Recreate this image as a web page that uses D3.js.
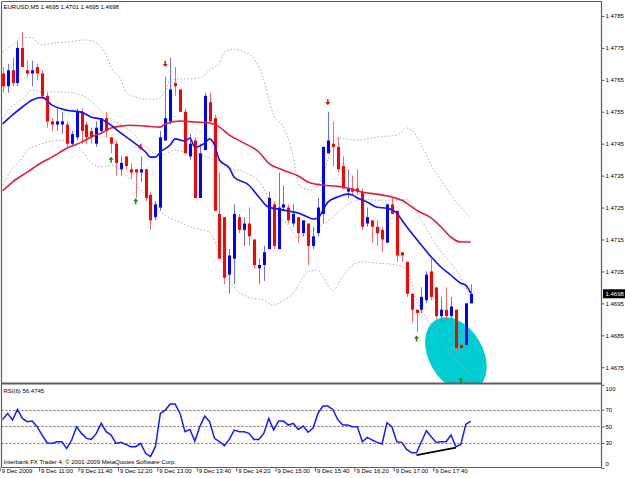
<!DOCTYPE html>
<html>
<head>
<meta charset="utf-8">
<script src="https://cdnjs.cloudflare.com/ajax/libs/d3/7.8.5/d3.min.js"></script>
<style>
  body { margin: 0; background: #fff; }
  svg text { font-family: "Liberation Sans", Arial, sans-serif; font-size: 6px; fill: #000; }
</style>
</head>
<body>
<svg id="chart" width="625" height="478"></svg>
<script>
// ---- data (EURUSD M5, 9 Dec 2009, bar 0 = 10:20) ----
const symbol = "EURUSD,M5";
const lastQuote = [1.4695, 1.4701, 1.4695, 1.4698];

const opens = [
  1.4767, 1.4763, 1.4768, 1.4764, 1.4775, 1.4768, 1.4767, 1.4769, 1.4767, 1.4760,
  1.4752, 1.4751, 1.4751, 1.4751, 1.4745, 1.4747, 1.4755, 1.4751, 1.4749, 1.4745,
  1.4749, 1.4753, 1.4747, 1.4745, 1.4737, 1.4741, 1.4737, 1.4737, 1.4736, 1.4737,
  1.4729, 1.4722, 1.4725, 1.4746, 1.4752, 1.4764, 1.4762, 1.4755, 1.4741, 1.4746,
  1.4728, 1.4743, 1.4758, 1.4753, 1.4723, 1.4722, 1.4704, 1.4709, 1.4722, 1.4718,
  1.4720, 1.4715, 1.4706, 1.4707, 1.4712, 1.4726, 1.4712, 1.4725, 1.4725, 1.4720,
  1.4722, 1.4717, 1.4720, 1.4713, 1.4717, 1.4723, 1.4742, 1.4745, 1.4744, 1.4738,
  1.4730, 1.4731, 1.4731, 1.4730, 1.4720, 1.4721, 1.4719, 1.4718, 1.4714, 1.4726,
  1.4724, 1.4711, 1.4708, 1.4698, 1.4693, 1.4693, 1.4696, 1.4705, 1.4700, 1.4691,
  1.4693, 1.4691, 1.4693, 1.4682, 1.4682, 1.4695
];
const highs = [
  1.4769, 1.4770, 1.4772, 1.4777, 1.4780, 1.4771, 1.4771, 1.4770, 1.4768, 1.4761,
  1.4753, 1.4756, 1.4755, 1.4752, 1.4749, 1.4756, 1.4756, 1.4752, 1.4750, 1.4752,
  1.4753, 1.4755, 1.4747, 1.4746, 1.4741, 1.4741, 1.4739, 1.4737, 1.4741, 1.4737,
  1.4730, 1.4727, 1.4749, 1.4766, 1.4772, 1.4769, 1.4762, 1.4756, 1.4748, 1.4747,
  1.4745, 1.4761, 1.4761, 1.4754, 1.4736, 1.4722, 1.4712, 1.4726, 1.4723, 1.4722,
  1.4725, 1.4715, 1.4709, 1.4713, 1.4730, 1.4727, 1.4736, 1.4732, 1.4726, 1.4726,
  1.4722, 1.4721, 1.4720, 1.4719, 1.4728, 1.4744, 1.4755, 1.4752, 1.4747, 1.4741,
  1.4737, 1.4735, 1.4737, 1.4731, 1.4725, 1.4721, 1.4721, 1.4719, 1.4726, 1.4728,
  1.4724, 1.4711, 1.4708, 1.4698, 1.4693, 1.4700, 1.4705, 1.4709, 1.4700, 1.4697,
  1.4700, 1.4697, 1.4693, 1.4685, 1.4695, 1.4701
];
const lows = [
  1.4761, 1.4761, 1.4763, 1.4763, 1.4769, 1.4766, 1.4763, 1.4765, 1.4759, 1.4750,
  1.4749, 1.4749, 1.4748, 1.4744, 1.4744, 1.4746, 1.4745, 1.4745, 1.4745, 1.4744,
  1.4748, 1.4747, 1.4742, 1.4735, 1.4735, 1.4737, 1.4734, 1.4728, 1.4733, 1.4727,
  1.4718, 1.4721, 1.4724, 1.4746, 1.4751, 1.4760, 1.4755, 1.4742, 1.4740, 1.4728,
  1.4728, 1.4743, 1.4752, 1.4724, 1.4709, 1.4701, 1.4698, 1.4701, 1.4717, 1.4713,
  1.4713, 1.4706, 1.4701, 1.4702, 1.4712, 1.4712, 1.4712, 1.4724, 1.4720, 1.4719,
  1.4714, 1.4716, 1.4707, 1.4712, 1.4716, 1.4720, 1.4742, 1.4738, 1.4736, 1.4731,
  1.4728, 1.4729, 1.4729, 1.4718, 1.4719, 1.4714, 1.4713, 1.4711, 1.4714, 1.4723,
  1.4708, 1.4708, 1.4697, 1.4689, 1.4686, 1.4692, 1.4695, 1.4696, 1.4690, 1.4689,
  1.4690, 1.4690, 1.4680, 1.4673, 1.4682, 1.4695
];
const closes = [
  1.4763, 1.4768, 1.4764, 1.4775, 1.4769, 1.4767, 1.4768, 1.4767, 1.4760, 1.4752,
  1.4751, 1.4752, 1.4752, 1.4745, 1.4748, 1.4755, 1.4749, 1.4747, 1.4747, 1.4750,
  1.4753, 1.4749, 1.4745, 1.4739, 1.4739, 1.4738, 1.4736, 1.4736, 1.4737, 1.4728,
  1.4721, 1.4726, 1.4747, 1.4753, 1.4762, 1.4763, 1.4755, 1.4742, 1.4745, 1.4728,
  1.4742, 1.4760, 1.4752, 1.4724, 1.4709, 1.4703, 1.4710, 1.4723, 1.4718, 1.4720,
  1.4716, 1.4707, 1.4707, 1.4711, 1.4728, 1.4713, 1.4725, 1.4726, 1.4721, 1.4723,
  1.4717, 1.4721, 1.4713, 1.4716, 1.4725, 1.4744, 1.4746, 1.4744, 1.4737, 1.4731,
  1.4731, 1.4730, 1.4730, 1.4719, 1.4722, 1.4719, 1.4717, 1.4715, 1.4726, 1.4723,
  1.4710, 1.4710, 1.4698, 1.4693, 1.4692, 1.4697, 1.4704, 1.4697, 1.4691, 1.4693,
  1.4691, 1.4694, 1.4681, 1.4681, 1.4695, 1.4698
];

// moving averages, [bar, price]
const fastMa = [
  [0, 1.47512], [2, 1.47540], [4, 1.47565], [6, 1.47587], [8, 1.47595], [10, 1.47571],
  [13, 1.47555], [16, 1.47549], [18, 1.47533], [20, 1.47527], [22, 1.47508], [24, 1.47483],
  [26, 1.47461], [29, 1.47424], [30, 1.47408], [31, 1.47408], [32, 1.47424], [34, 1.47446],
  [35, 1.47465], [37, 1.47458], [38, 1.47468], [39, 1.47439], [41, 1.47452], [42, 1.47465],
  [43, 1.47446], [44, 1.47399], [46, 1.47374], [47, 1.47345], [50, 1.47320], [52, 1.47283],
  [54, 1.47251], [56, 1.47245], [58, 1.47239], [60, 1.47233], [62, 1.47220], [63, 1.47214],
  [64, 1.47217], [65, 1.47242], [66, 1.47267], [68, 1.47283], [70, 1.47292], [71, 1.47289],
  [72, 1.47280], [74, 1.47267], [76, 1.47251], [78, 1.47248], [80, 1.47233], [81, 1.47211],
  [83, 1.47170], [85, 1.47132], [87, 1.47095], [89, 1.47063], [91, 1.47038], [93, 1.47013],
  [94, 1.47007], [95, 1.46982]
];
const slowMa = [
  [0, 1.47303], [2, 1.47330], [5, 1.47361], [8, 1.47392], [10, 1.47408], [13, 1.47436],
  [16, 1.47455], [18, 1.47471], [20, 1.47483], [22, 1.47499], [24, 1.47505], [26, 1.47508],
  [29, 1.47505], [32, 1.47502], [33, 1.47512], [36, 1.47521], [39, 1.47518], [42, 1.47515],
  [44, 1.47502], [46, 1.47477], [49, 1.47452], [52, 1.47424], [54, 1.47389], [57, 1.47367],
  [60, 1.47349], [62, 1.47330], [65, 1.47320], [68, 1.47317], [70, 1.47311], [73, 1.47298],
  [76, 1.47292], [79, 1.47283], [81, 1.47273], [84, 1.47242], [87, 1.47217], [89, 1.47189],
  [91, 1.47157], [93, 1.47142], [95, 1.47142]
];

// bollinger bands, [bar, price]
const bandUpper = [
  [0, 1.47737], [2, 1.47759], [4, 1.47784], [6, 1.47781], [7, 1.47768], [8, 1.47759],
  [10, 1.47765], [13, 1.47768], [17, 1.47775], [20, 1.47753], [21, 1.47728], [22, 1.47690],
  [24, 1.47650], [25, 1.47612], [27, 1.47596], [29, 1.47590], [31, 1.47590], [32, 1.47596],
  [33, 1.47612], [34, 1.47650], [36, 1.47653], [38, 1.47653], [40, 1.47656], [42, 1.47681],
  [44, 1.47703], [45, 1.47737], [47, 1.47746], [49, 1.47737], [51, 1.47718], [53, 1.47649],
  [54, 1.47590], [55, 1.47540], [57, 1.47502], [59, 1.47408], [60, 1.47326], [61, 1.47311],
  [63, 1.47305], [64, 1.47320], [66, 1.47399], [67, 1.47446], [68, 1.47468], [72, 1.47461],
  [76, 1.47471], [80, 1.47477], [82, 1.47499], [83, 1.47493], [85, 1.47446], [87, 1.47383],
  [89, 1.47336], [91, 1.47289], [93, 1.47251], [95, 1.47217]
];
const bandMiddle = [
  [0, 1.47530], [2, 1.47568], [4, 1.47590], [6, 1.47618], [8, 1.47612], [12, 1.47612],
  [16, 1.47602], [19, 1.47568], [22, 1.47524], [24, 1.47511], [26, 1.47490], [29, 1.47440],
  [32, 1.47414], [35, 1.47430], [37, 1.47424], [40, 1.47414], [43, 1.47399], [46, 1.47373],
  [49, 1.47361], [53, 1.47311], [55, 1.47242], [58, 1.47195], [60, 1.47157], [63, 1.47180],
  [65, 1.47198], [67, 1.47220], [69, 1.47248], [71, 1.47267], [73, 1.47276], [76, 1.47273],
  [80, 1.47273], [82, 1.47276], [85, 1.47210], [88, 1.47132], [92, 1.47054], [95, 1.46972]
];
const bandLower = [
  [0, 1.47320], [2, 1.47373], [4, 1.47405], [5, 1.47430], [8, 1.47450], [12, 1.47461],
  [16, 1.47430], [18, 1.47389], [20, 1.47377], [22, 1.47383], [23, 1.47377], [26, 1.47336],
  [29, 1.47289], [32, 1.47236], [34, 1.47217], [36, 1.47204], [39, 1.47185], [42, 1.47173],
  [44, 1.47101], [46, 1.47022], [48, 1.46985], [50, 1.46969], [53, 1.46960], [55, 1.46944],
  [57, 1.46960], [59, 1.46982], [60, 1.47007], [62, 1.47048], [64, 1.47054], [65, 1.47032],
  [67, 1.46991], [69, 1.47032], [71, 1.47070], [73, 1.47080], [76, 1.47076], [80, 1.47070],
  [82, 1.47054], [84, 1.46960], [87, 1.46881], [90, 1.46813], [95, 1.46725]
];

// arrow objects, [bar, price]
const upArrows = [[22, 1.4740], [27, 1.4727], [84, 1.4684], [93, 1.4671]];
const downArrows = [[28, 1.4744], [33, 1.4770], [66, 1.4758]];

// ellipse object centre, [bar, price]
const ellipseCentre = [92, 1.4679];

// RSI(6) per bar
const rsiPeriod = 6;
const rsi = [
  58.4, 65.6, 57.6, 70.4, 59.6, 55.6, 56.4, 49.6, 39.6, 30.4,
  29.6, 31.6, 31.6, 23.6, 33.6, 49.6, 41.6, 35.6, 34.4, 41.6,
  53.6, 43.6, 39.6, 29.6, 30.8, 28.4, 25.6, 25.6, 29.6, 17.6,
  13.6, 25.6, 65.6, 69.6, 76.8, 76.8, 65.6, 43.6, 46.4, 32.4,
  49.6, 62.4, 55.6, 35.6, 31.6, 26.8, 34.4, 45.6, 43.6, 43.6,
  41.6, 34.4, 34.4, 41.6, 59.6, 45.6, 56.4, 56.4, 51.6, 53.6,
  46.4, 50.4, 43.0, 48.0, 65.6, 74.4, 74.4, 70.4, 58.4, 51.6,
  51.6, 49.6, 49.6, 31.6, 36.8, 33.6, 30.8, 28.8, 54.4, 49.6,
  31.6, 30.8, 22.4, 18.4, 18.4, 31.6, 44.8, 37.6, 30.8, 31.6,
  31.6, 39.6, 25.6, 28.4, 52.4, 56.4745
];
const rsiLevels = [70, 50, 30];
const rsiTicks = [100, 70, 50, 30, 0];
const rsiDivergence = [[84, 15.5], [92, 24.5]];

const priceTicks = [1.4785, 1.4775, 1.4765, 1.4755, 1.4745, 1.4735, 1.4725, 1.4715, 1.4705, 1.4695, 1.4685, 1.4675];
const timeBars = [0, 8, 16, 24, 32, 40, 48, 56, 64, 72, 80, 88];
const timeLabels = ["9 Dec 2009", "9 Dec 11:00", "9 Dec 11:40", "9 Dec 12:20", "9 Dec 13:00", "9 Dec 13:40",
  "9 Dec 14:20", "9 Dec 15:00", "9 Dec 15:40", "9 Dec 16:20", "9 Dec 17:00", "9 Dec 17:40"];

// ---- layout ----
const plotLeft = 1.5, plotRight = 601.5;
const mainTop = 1.5, mainBottom = 383.5;
const rsiTop = 384.8, rsiBottom = 467.5;

const svg = d3.select("#chart");

const x = d3.scaleLinear().domain([0, 95]).range([2.7, 470.7]);
const y = d3.scaleLinear().domain([1.4675, 1.4785]).range([367.2, 16]);
const yRsi = d3.scaleLinear().domain([0, 100]).range([468, rsiTop]);

const defs = svg.append("defs");
defs.append("clipPath").attr("id", "clip-main")
  .append("rect").attr("x", plotLeft).attr("y", mainTop)
  .attr("width", plotRight - plotLeft).attr("height", mainBottom - 0.5 - mainTop);
defs.append("clipPath").attr("id", "clip-rsi")
  .append("rect").attr("x", plotLeft).attr("y", mainBottom + 1)
  .attr("width", plotRight - plotLeft).attr("height", rsiBottom - mainBottom - 1);

const main = svg.append("g").attr("clip-path", "url(#clip-main)");

// cyan ellipse (background object)
main.append("ellipse")
  .attr("transform", `translate(${x(ellipseCentre[0])},${y(ellipseCentre[1])}) rotate(60)`)
  .attr("rx", 40).attr("ry", 27)
  .attr("fill", "#00cdd2");

// bands
const line = d3.line().x(d => x(d[0])).y(d => y(d[1])).curve(d3.curveMonotoneX);
[bandUpper, bandMiddle, bandLower].forEach(band => {
  main.append("path")
    .attr("d", line(band))
    .attr("fill", "none")
    .attr("stroke", "#a9a9d2")
    .attr("stroke-width", 1)
    .attr("stroke-dasharray", "1.5,2");
});

// candles
const bars = opens.map((o, i) => ({ i, o, h: highs[i], l: lows[i], c: closes[i] }));
const candle = main.selectAll(".candle").data(bars).enter().append("g").attr("class", "candle");
candle.append("line")
  .attr("x1", d => Math.round(x(d.i)) + 0.5)
  .attr("x2", d => Math.round(x(d.i)) + 0.5)
  .attr("y1", d => y(d.h))
  .attr("y2", d => y(d.l))
  .attr("stroke", d => d.c >= d.o ? "#6f6ff5" : "#f26a6a")
  .attr("stroke-width", 1);
candle.append("rect")
  .attr("x", d => Math.round(x(d.i)) - 1)
  .attr("y", d => y(Math.max(d.o, d.c)))
  .attr("width", 3)
  .attr("height", d => Math.max(1.2, y(Math.min(d.o, d.c)) - y(Math.max(d.o, d.c))))
  .attr("fill", d => d.c >= d.o ? "#0000ff" : "#ff0000");

// moving averages
main.append("path").attr("d", line(slowMa))
  .attr("fill", "none").attr("stroke", "#e0203c").attr("stroke-width", 1.6);
main.append("path").attr("d", line(fastMa))
  .attr("fill", "none").attr("stroke", "#1010f0").attr("stroke-width", 1.6);

// arrows
const upPath = "M0,-3L2.6,0L0.8,0L0.8,3L-0.8,3L-0.8,0L-2.6,0Z";
const downPath = "M0,3L2.6,0L0.8,0L0.8,-3L-0.8,-3L-0.8,0L-2.6,0Z";
main.selectAll(".up").data(upArrows).enter().append("path")
  .attr("d", upPath)
  .attr("transform", d => `translate(${x(d[0])},${y(d[1])})`)
  .attr("fill", "#168c16");
main.selectAll(".down").data(downArrows).enter().append("path")
  .attr("d", downPath)
  .attr("transform", d => `translate(${x(d[0])},${y(d[1])})`)
  .attr("fill", "#e01010");

// ---- RSI window ----
const rsiG = svg.append("g").attr("clip-path", "url(#clip-rsi)");
rsiG.selectAll(".lvl").data(rsiLevels).enter().append("line")
  .attr("x1", plotLeft).attr("x2", plotRight)
  .attr("y1", d => Math.round(yRsi(d)) + 0.5).attr("y2", d => Math.round(yRsi(d)) + 0.5)
  .attr("stroke", "#6a6a6a").attr("stroke-width", 1).attr("stroke-dasharray", "2,2");
rsiG.append("path")
  .attr("d", d3.line().x((d, i) => x(i)).y(d => yRsi(d))(rsi))
  .attr("fill", "none").attr("stroke", "#1a1aff").attr("stroke-width", 1.5);
rsiG.append("path")
  .attr("d", d3.line().x(d => x(d[0])).y(d => yRsi(d[1]))(rsiDivergence))
  .attr("fill", "none").attr("stroke", "#000").attr("stroke-width", 1.6);

// ---- frame ----
const frame = svg.append("g").attr("stroke", "#5e5e5e").attr("fill", "none");
frame.append("line").attr("x1", plotLeft).attr("x2", plotRight).attr("y1", mainTop).attr("y2", mainTop).attr("stroke-width", 1.2);
frame.append("line").attr("x1", plotLeft).attr("x2", plotLeft).attr("y1", mainTop).attr("y2", rsiBottom).attr("stroke-width", 1.2);
frame.append("line").attr("x1", plotRight).attr("x2", plotRight).attr("y1", mainTop).attr("y2", rsiBottom).attr("stroke-width", 1.2);
frame.append("line").attr("x1", plotLeft).attr("x2", plotRight).attr("y1", mainBottom).attr("y2", mainBottom).attr("stroke-width", 2);
frame.append("line").attr("x1", plotLeft).attr("x2", plotRight).attr("y1", rsiBottom).attr("y2", rsiBottom).attr("stroke-width", 1.2);

// ---- axes ----
const priceAxis = svg.append("g")
  .attr("transform", `translate(${plotRight},0)`)
  .call(d3.axisRight(y).tickValues(priceTicks).tickFormat(d3.format(".4f")).tickSize(3).tickPadding(1));
priceAxis.select(".domain").remove();
priceAxis.selectAll(".tick line").attr("stroke", "#5e5e5e");
priceAxis.selectAll("text").attr("font-size", null).attr("font-family", null);

// current price marker
const lastClose = lastQuote[3];
svg.append("rect")
  .attr("x", plotRight + 1.5).attr("y", y(lastClose) - 4.5)
  .attr("width", 22).attr("height", 9).attr("fill", "#000");
svg.append("text")
  .attr("x", plotRight + 4).attr("y", y(lastClose)).attr("dy", "0.34em")
  .style("fill", "#fff")
  .text(d3.format(".4f")(lastClose));

const rsiAxis = svg.append("g")
  .attr("transform", `translate(${plotRight},0)`)
  .call(d3.axisRight(yRsi).tickValues(rsiTicks).tickFormat(d3.format("d")).tickSize(3).tickPadding(1));
rsiAxis.select(".domain").remove();
rsiAxis.selectAll(".tick line").attr("stroke", "#5e5e5e");
rsiAxis.selectAll("text").attr("font-size", null).attr("font-family", null)
  .attr("dy", d => d === 100 ? "0.95em" : d === 0 ? "-0.45em" : "0.32em");

const timeAxis = svg.append("g")
  .attr("transform", `translate(-3,${rsiBottom})`)
  .call(d3.axisBottom(x).tickValues(timeBars).tickFormat((d, i) => timeLabels[i]).tickSize(4).tickPadding(0));
timeAxis.select(".domain").remove();
timeAxis.selectAll(".tick line").attr("stroke", "#5e5e5e");
timeAxis.selectAll("text").attr("font-size", null).attr("font-family", null)
  .attr("text-anchor", "start").attr("x", 1.5).attr("y", 1).attr("dy", "0.71em");

// ---- captions ----
svg.append("text").attr("x", 3.5).attr("y", 9)
  .text(`${symbol}  ${lastQuote.map(d3.format(".4f")).join(" ")}`);
svg.append("text").attr("x", 3.5).attr("y", 393)
  .text(`RSI(${rsiPeriod}) ${d3.format(".4f")(rsi[rsi.length - 1])}`);
svg.append("text").attr("x", 3.5).attr("y", 464)
  .text("Interbank FX Trader 4, \u00a9 2001-2009 MetaQuotes Software Corp.");
</script>
</body>
</html>
